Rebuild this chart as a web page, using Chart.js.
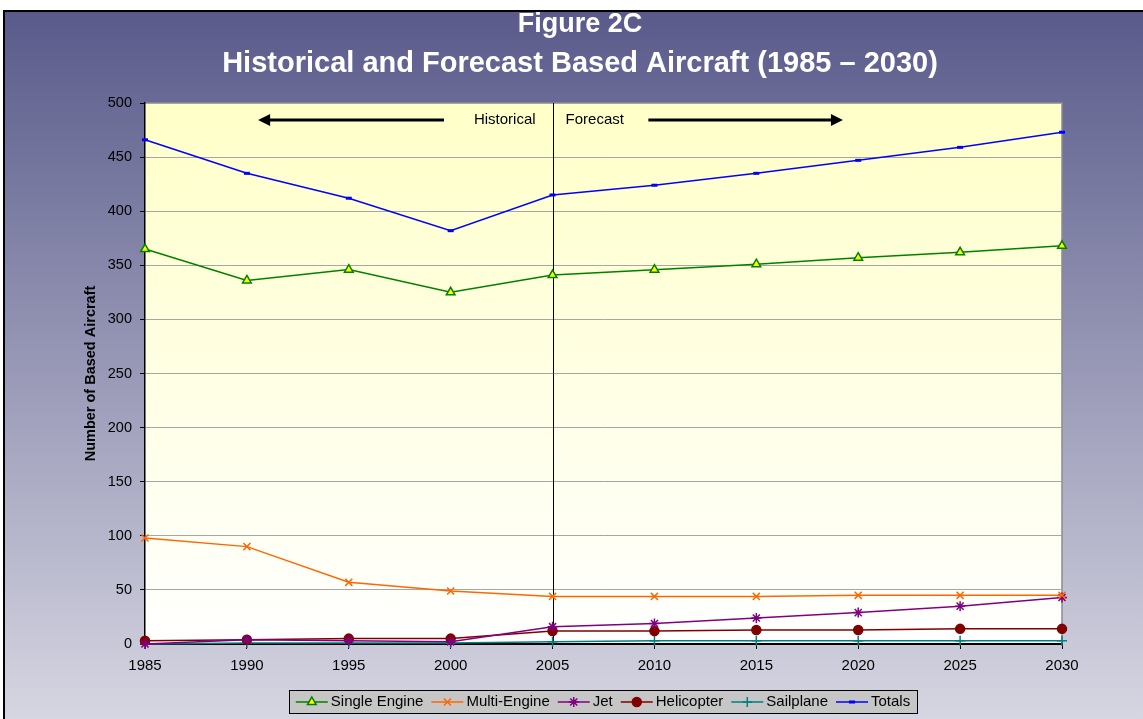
<!DOCTYPE html>
<html>
<head>
<meta charset="utf-8">
<script src="https://cdn.jsdelivr.net/npm/chart.js@4.4.0/dist/chart.umd.min.js"></script>
<style>
  html, body { margin: 0; padding: 0; background: #fff; }
  #wrap { width: 1143px; height: 719px; position: relative; }
</style>
</head>
<body>
<div id="wrap"><canvas id="aircraftChart"></canvas></div>
<script>
// ===== data =====
const anos = ['1985', '1990', '1995', '2000', '2005', '2010', '2015', '2020', '2025', '2030'];
const singleEngine = [365, 336, 346, 325, 341, 346, 351, 357, 362, 368];
const multiEngine  = [98, 90, 57, 49, 44, 44, 44, 45, 45, 45];
const jet          = [0, 4, 3, 2, 16, 19, 24, 29, 35, 43];
const helicopter   = [3, 4, 5, 5, 12, 12, 13, 13, 14, 14];
const sailplane    = [0, 1, 1, 1, 2, 3, 3, 3, 3, 3];
const totals       = [466, 435, 412, 382, 415, 424, 435, 447, 459, 473];
const yTicks = { min: 0, max: 500, step: 50 };
const forecastStart = '2005';

const FONT = 'Liberation Sans, Arial, Helvetica, sans-serif';

// ===== plugin: fundo, títulos, anotações, legenda =====
const decoracao = {
    id: 'decoracao',
    beforeDraw(chart) {
        const { ctx, width, height, chartArea: a } = chart;
        ctx.save();
        ctx.fillStyle = '#ffffff';
        ctx.fillRect(0, 0, width, height);
        const g = ctx.createLinearGradient(0, 10, 0, height);
        g.addColorStop(0, '#595a8a');
        g.addColorStop(1, '#d6d6e2');
        ctx.fillStyle = g;
        ctx.fillRect(3, 10, width - 3, height - 10);
        ctx.strokeStyle = '#000';
        ctx.lineWidth = 2;
        ctx.beginPath();
        ctx.moveTo(4, height);
        ctx.lineTo(4, 11);
        ctx.lineTo(width, 11);
        ctx.stroke();

        // área do gráfico
        const p = ctx.createLinearGradient(0, a.top, 0, a.bottom);
        p.addColorStop(0, '#ffffc8');
        p.addColorStop(1, '#ffffff');
        ctx.fillStyle = p;
        ctx.fillRect(a.left, a.top, a.right - a.left, a.bottom - a.top);
        ctx.strokeStyle = '#8c8c8c';
        ctx.lineWidth = 1.5;
        ctx.beginPath();
        ctx.moveTo(a.left, a.top);
        ctx.lineTo(a.right, a.top);
        ctx.lineTo(a.right, a.bottom);
        ctx.stroke();

        // títulos
        ctx.fillStyle = '#ffffff';
        ctx.textAlign = 'center';
        ctx.textBaseline = 'alphabetic';
        ctx.font = 'bold 27px ' + FONT;
        ctx.fillText('Figure 2C', 580, 32);
        ctx.font = 'bold 29px ' + FONT;
        ctx.fillText('Historical and Forecast Based Aircraft (1985 \u2013 2030)', 580, 72);
        ctx.restore();
    },
    beforeDatasetsDraw(chart) {
        const { ctx, chartArea: a, scales: { x } } = chart;
        const xf = x.getPixelForValue(anos.indexOf(forecastStart));
        ctx.save();
        ctx.strokeStyle = '#000';
        ctx.lineWidth = 1;
        ctx.beginPath();
        ctx.moveTo(Math.round(xf) + 0.5, a.top);
        ctx.lineTo(Math.round(xf) + 0.5, a.bottom);
        ctx.stroke();

        const ay = a.top + 17;
        ctx.fillStyle = '#000';
        ctx.font = '15px ' + FONT;
        ctx.textBaseline = 'middle';
        ctx.textAlign = 'right';
        ctx.fillText('Historical', xf - 17, ay);
        ctx.textAlign = 'left';
        ctx.fillText('Forecast', xf + 13, ay);

        function seta(x0, x1) {
            const dir = Math.sign(x1 - x0);
            ctx.lineWidth = 3;
            ctx.beginPath();
            ctx.moveTo(x0, ay);
            ctx.lineTo(x1 - dir * 10, ay);
            ctx.stroke();
            ctx.beginPath();
            ctx.moveTo(x1, ay);
            ctx.lineTo(x1 - dir * 12, ay - 6);
            ctx.lineTo(x1 - dir * 12, ay + 6);
            ctx.closePath();
            ctx.fill();
        }
        seta(x.getPixelForValue(2.935), x.getPixelForValue(1.11));
        seta(x.getPixelForValue(4.94), x.getPixelForValue(6.85));
        ctx.restore();
    },
    afterDraw(chart) {
        const { ctx } = chart;
        const ds = chart.data.datasets;
        ctx.save();
        ctx.font = '15px ' + FONT;
        const linha = 32, gap1 = 3, gap2 = 8;
        const boxL = 289, boxR = 917, boxT = 690, boxB = 713;
        ctx.fillStyle = '#c6c6c6';
        ctx.fillRect(boxL, boxT, boxR - boxL, boxB - boxT);
        ctx.strokeStyle = '#000';
        ctx.lineWidth = 1;
        ctx.strokeRect(boxL + 0.5, boxT + 0.5, boxR - boxL, boxB - boxT);
        const larguras = ds.map(d => ctx.measureText(d.label).width);
        let total = 0;
        larguras.forEach(w => { total += linha + gap1 + w + gap2; });
        total -= gap2;
        let cx = (boxL + boxR) / 2 - total / 2;
        const cy = (boxT + boxB) / 2 + 0.5;
        ds.forEach((d, i) => {
            ctx.strokeStyle = d.borderColor;
            ctx.lineWidth = 1.5;
            ctx.beginPath();
            ctx.moveTo(cx, cy);
            ctx.lineTo(cx + linha, cy);
            ctx.stroke();
            ctx.fillStyle = d.pointBackgroundColor;
            ctx.strokeStyle = d.pointBorderColor;
            ctx.lineWidth = d.pointBorderWidth;
            Chart.helpers.drawPoint(ctx, {
                pointStyle: d.pointStyle,
                radius: d.pointRadius,
                borderWidth: d.pointBorderWidth
            }, cx + linha / 2, cy);
            ctx.fillStyle = '#000';
            ctx.textAlign = 'left';
            ctx.textBaseline = 'middle';
            ctx.fillText(d.label, cx + linha + gap1, cy);
            cx += linha + gap1 + larguras[i] + gap2;
        });
        ctx.restore();
    }
};

function serie(label, data, cor, estilo, raio, fundo, espessura) {
    return {
        label: label,
        data: data,
        borderColor: cor,
        backgroundColor: cor,
        borderWidth: 1.5,
        pointStyle: estilo,
        pointRadius: raio,
        pointHoverRadius: raio,
        pointBorderWidth: espessura || 1.5,
        pointBorderColor: cor,
        pointBackgroundColor: fundo || cor,
        tension: 0,
        fill: false,
        clip: false
    };
}

const ctx = document.getElementById('aircraftChart').getContext('2d');
const aircraftChart = new Chart(ctx, {
    type: 'line',
    data: {
        labels: anos,
        datasets: [
            serie('Single Engine', singleEngine, '#008000', 'triangle', 5, '#ffff00'),
            serie('Multi-Engine', multiEngine, '#ff6600', 'crossRot', 5),
            serie('Jet', jet, '#800080', 'star', 5),
            serie('Helicopter', helicopter, '#800000', 'circle', 4.5),
            serie('Sailplane', sailplane, '#008080', 'cross', 5),
            serie('Totals', totals, '#0000ff', 'line', 3, null, 3)
        ]
    },
    options: {
        responsive: true,
        maintainAspectRatio: false,
        animation: false,
        layout: { padding: { top: 103, right: 81, left: 0, bottom: 0 } },
        plugins: {
            legend: { display: false },
            title: { display: false },
            tooltip: { enabled: false }
        },
        scales: {
            x: {
                type: 'category',
                offset: false,
                grid: { display: true, drawOnChartArea: false, tickLength: 5, color: '#000', tickColor: '#000' },
                border: { color: '#000', width: 2 },
                ticks: { color: '#000', font: { size: 15, family: FONT }, padding: 8, maxRotation: 0, autoSkip: false },
                afterFit: s => { s.height = 75; }
            },
            y: {
                min: yTicks.min,
                max: yTicks.max,
                grid: { color: '#a6a6a6', tickColor: '#000', tickLength: 5, lineWidth: 1 },
                border: { color: '#000', width: 1.5 },
                ticks: { stepSize: yTicks.step, color: '#000', font: { size: 14.5, family: FONT }, padding: 8 },
                title: {
                    display: true,
                    text: 'Number of Based Aircraft',
                    color: '#000',
                    font: { size: 14.5, weight: 'bold', family: FONT },
                    padding: { top: 82, bottom: 0 }
                },
                afterFit: s => { s.width = 145; }
            }
        }
    },
    plugins: [decoracao]
});
</script>
</body>
</html>
